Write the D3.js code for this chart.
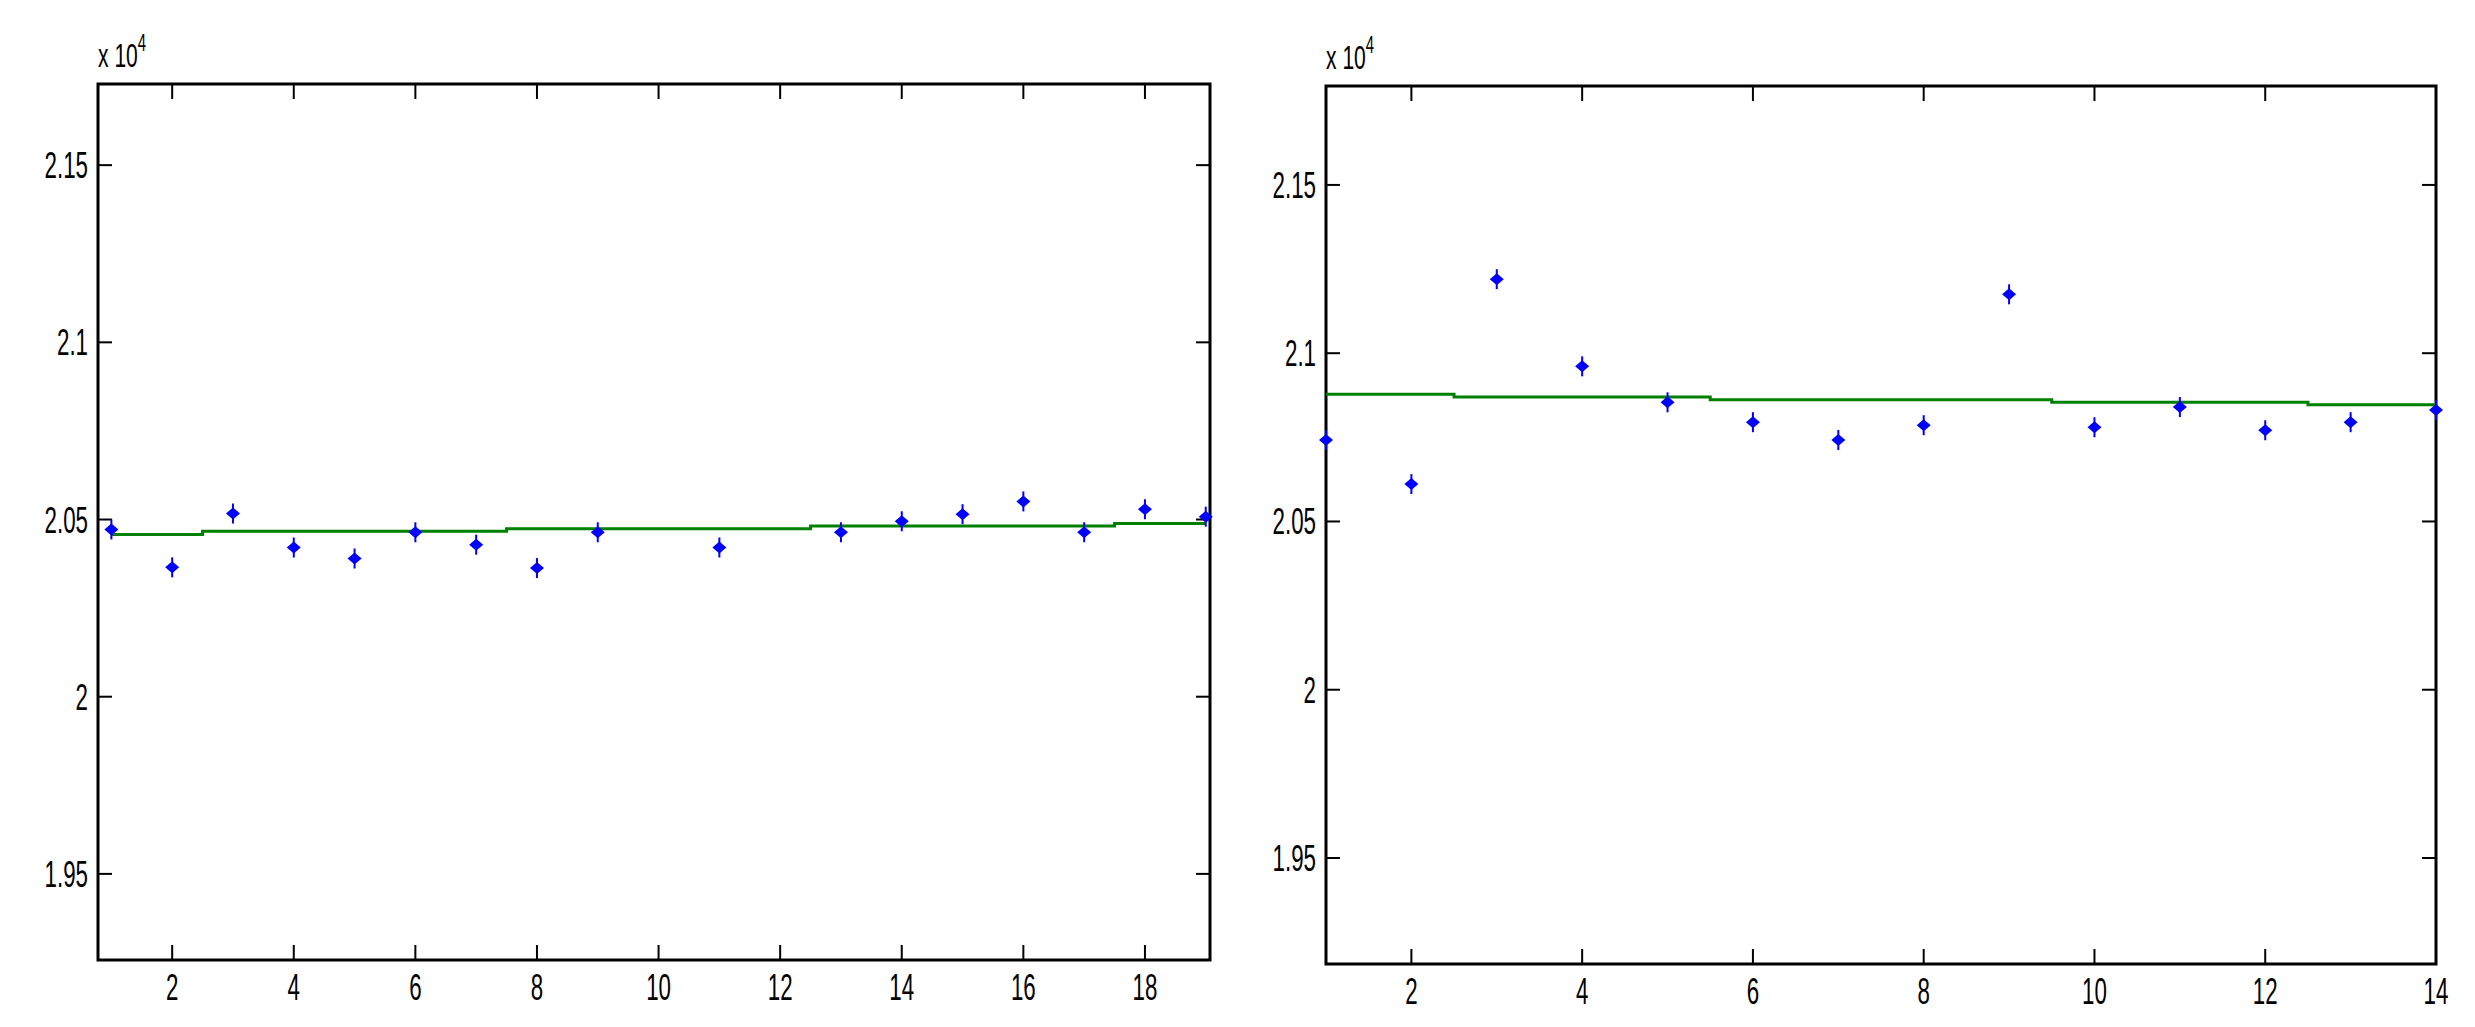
<!DOCTYPE html>
<html>
<head>
<meta charset="utf-8">
<script src="https://cdn.jsdelivr.net/npm/d3@7"></script>
<style>
  body { margin: 0; background: #fff; }
  text { font-family: "Liberation Sans", Arial, sans-serif; }
</style>
</head>
<body>
<div id="chart"></div>
<script>
// left panel data (values in units of 1e4)
const leftX = [1, 2, 3, 4, 5, 6, 7, 8, 9, 11, 13, 14, 15, 16, 17, 18, 19]
const leftY = [2.0472, 2.0365, 2.0517, 2.0421, 2.0390, 2.0464, 2.0429, 2.0363, 2.0464, 2.0421, 2.0464, 2.0495, 2.0515, 2.0551, 2.0464, 2.0529, 2.0508]
const leftFitX = [1, 2.5, 7.5, 12.5, 17.5, 19]
const leftFitY = [2.0458, 2.0467, 2.0474, 2.0482, 2.0489]
const leftXTicks = [2, 4, 6, 8, 10, 12, 14, 16, 18]

// right panel data
const rightX = [1, 2, 3, 4, 5, 6, 7, 8, 9, 10, 11, 12, 13, 14]
const rightY = [2.0742, 2.0611, 2.1220, 2.0961, 2.0854, 2.0795, 2.0742, 2.0786, 2.1175, 2.0780, 2.0840, 2.0771, 2.0795, 2.0831]
const rightFitX = [1, 2.5, 5.5, 9.5, 12.5, 14]
const rightFitY = [2.0878, 2.0870, 2.0862, 2.0854, 2.0847]
const rightXTicks = [2, 4, 6, 8, 10, 12, 14]

const yTicks = [1.95, 2, 2.05, 2.1, 2.15]

const svg = d3.select("#chart").append("svg")
  .attr("width", 2475).attr("height", 1027)

function panel(cfg) {
  const x = d3.scaleLinear().domain(cfg.xDomain).range([cfg.left, cfg.right])
  const y = d3.scaleLinear().domain(cfg.yDomain).range([cfg.bottom, cfg.top])
  const g = svg.append("g")

  // ticks inside on all sides
  cfg.xTicks.forEach(t => {
    g.append("line").attr("x1", x(t)).attr("x2", x(t)).attr("y1", cfg.bottom).attr("y2", cfg.bottom - 15)
      .attr("stroke", "#000").attr("stroke-width", 2)
    g.append("line").attr("x1", x(t)).attr("x2", x(t)).attr("y1", cfg.top).attr("y2", cfg.top + 15)
      .attr("stroke", "#000").attr("stroke-width", 2)
    g.append("text").attr("transform", `translate(${x(t)},${cfg.bottom + 40}) scale(0.62,1)`)
      .attr("text-anchor", "middle").attr("font-size", 36).text(t)
  })
  yTicks.forEach(t => {
    g.append("line").attr("x1", cfg.left).attr("x2", cfg.left + 14).attr("y1", y(t)).attr("y2", y(t))
      .attr("stroke", "#000").attr("stroke-width", 2)
    g.append("line").attr("x1", cfg.right).attr("x2", cfg.right - 14).attr("y1", y(t)).attr("y2", y(t))
      .attr("stroke", "#000").attr("stroke-width", 2)
    g.append("text").attr("transform", `translate(${cfg.left - 10},${y(t) + 13}) scale(0.62,1)`)
      .attr("text-anchor", "end").attr("font-size", 36).text(t)
  })

  g.append("rect").attr("x", cfg.left).attr("y", cfg.top)
    .attr("width", cfg.right - cfg.left).attr("height", cfg.bottom - cfg.top)
    .attr("fill", "none").attr("stroke", "#000").attr("stroke-width", 3)

  // exponent label
  const ex = g.append("text").attr("transform", `translate(${cfg.left},${cfg.top - 17}) scale(0.62,1)`)
    .attr("font-size", 34)
  ex.append("tspan").text("x 10")
  ex.append("tspan").attr("dy", -16).attr("font-size", 24).text("4")

  // green step fit line
  const steps = []
  cfg.fitY.forEach((v, i) => {
    steps.push([cfg.fitX[i], v], [cfg.fitX[i + 1], v])
  })
  g.append("path").datum(steps)
    .attr("d", d3.line().x(d => x(d[0])).y(d => y(d[1])))
    .attr("fill", "none").attr("stroke", "#008000").attr("stroke-width", 3)

  // blue markers
  const pts = g.selectAll(".pt").data(cfg.xs.map((d, i) => [d, cfg.ys[i]])).join("g")
    .attr("transform", d => `translate(${x(d[0])},${y(d[1])})`)
  pts.append("path").attr("d", "M-7,0L0,-6L7,0L0,6Z").attr("fill", "#0000ff")
  pts.append("line").attr("y1", -10).attr("y2", 10).attr("stroke", "#0000ff").attr("stroke-width", 2)
}

panel({
  left: 98, right: 1210, top: 84, bottom: 960,
  xDomain: [0.78, 19.07], yDomain: [1.9257, 2.1729],
  xTicks: leftXTicks, xs: leftX, ys: leftY, fitX: leftFitX, fitY: leftFitY
})
panel({
  left: 1326, right: 2436, top: 86, bottom: 964,
  xDomain: [1, 14], yDomain: [1.9185, 2.1794],
  xTicks: rightXTicks, xs: rightX, ys: rightY, fitX: rightFitX, fitY: rightFitY
})
</script>
</body>
</html>
